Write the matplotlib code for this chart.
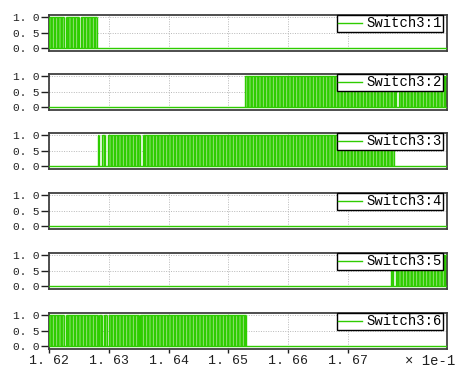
import numpy as np
import matplotlib
matplotlib.use("Agg")
import matplotlib.pyplot as plt

# time axis in units of 1e-1 s
X_MIN, X_MAX = 1.62, 1.6866
X_TICKS = [1.62, 1.63, 1.64, 1.65, 1.66, 1.67]
X_TICK_LABELS = ["1. 62", "1. 63", "1. 64", "1. 65", "1. 66", "1. 67"]
Y_TICKS = [0.0, 0.5, 1.0]
Y_TICK_LABELS = ["0. 0", "0. 5", "1. 0"]

LABELS = ["Switch3:1", "Switch3:2", "Switch3:3", "Switch3:4", "Switch3:5", "Switch3:6"]

# intervals where each switch is actively switching (pulse bursts)
BURSTS_1 = [(1.6200, 1.6225), (1.6228, 1.6250), (1.6253, 1.6280)]
BURSTS_2 = [(1.6528, 1.6780), (1.6785, 1.6866)]
BURSTS_3 = [(1.6282, 1.6284), (1.6288, 1.6293), (1.6298, 1.6352), (1.6357, 1.6777)]
BURSTS_4 = []
BURSTS_5 = [(1.6773, 1.6775), (1.6780, 1.6866)]
BURSTS_6 = [(1.6200, 1.6225), (1.6228, 1.6282), (1.6283, 1.6288),
            (1.6292, 1.6297), (1.6300, 1.6350), (1.6353, 1.6530)]
ALL_BURSTS = [BURSTS_1, BURSTS_2, BURSTS_3, BURSTS_4, BURSTS_5, BURSTS_6]

GREEN = "#2ecc00"
LIGHT = "#a3e48a"

plt.rcParams["font.family"] = ["Liberation Mono", "DejaVu Sans"]
plt.rcParams["hatch.color"] = GREEN
plt.rcParams["hatch.linewidth"] = 1.8

W, H = 461, 371
fig = plt.figure(figsize=(W / 100, H / 100), dpi=100)

tops = [15, 74, 133, 193, 253, 313]
ax_h = 35.5
left, right = 49, 447

for i, (bursts, label) in enumerate(zip(ALL_BURSTS, LABELS)):
    top = tops[i]
    ax = fig.add_axes([left / W, 1 - (top + ax_h) / H, (right - left) / W, ax_h / H])

    # pulse bursts: light fill with dense vertical pulse lines
    for s, e in bursts:
        ax.fill_between([s, e], 0, 1, facecolor=LIGHT, edgecolor=GREEN,
                        hatch="|||||", linewidth=0, zorder=2)
        ax.vlines([s, e], 0, 1, color=GREEN, lw=1.0, zorder=3)
        ax.hlines(1.0, s, e, color=GREEN, lw=1.0, zorder=3)
    ax.plot([X_MIN, X_MAX], [0, 0], color=GREEN, lw=1.0, label=label, zorder=3)

    ax.set_xlim(X_MIN, X_MAX)
    ax.set_ylim(-0.07, 1.07)
    ax.set_yticks(Y_TICKS)
    ax.set_yticklabels(Y_TICK_LABELS, fontsize=8)
    ax.set_xticks(X_TICKS)
    ax.grid(True, ls=(0, (1, 1.5)), color="#b8b8b8", lw=0.7)
    ax.set_axisbelow(True)
    ax.tick_params(axis="y", length=6, width=1, pad=1, colors="#202020")
    for sp in ax.spines.values():
        sp.set_color("#404040")
        sp.set_linewidth(1.3)

    if i == len(LABELS) - 1:
        ax.set_xticklabels(X_TICK_LABELS, fontsize=9.5)
        ax.tick_params(axis="x", length=3, width=1, pad=2, colors="#202020")
    else:
        ax.tick_params(axis="x", length=0, labelbottom=False)

    leg = ax.legend(loc="upper right", bbox_to_anchor=(0.99, 1.0), fontsize=10,
                    frameon=True, fancybox=False, framealpha=1, borderpad=0.1,
                    handlelength=1.7, handletextpad=0.3, borderaxespad=0)
    leg.get_frame().set_edgecolor("black")
    leg.get_frame().set_linewidth(1.0)

fig.text(405 / W, 1 - 361 / H, "× 1e-1", fontsize=10, va="center", ha="left",
         color="#202020")

fig.savefig("out.png", dpi=100)
